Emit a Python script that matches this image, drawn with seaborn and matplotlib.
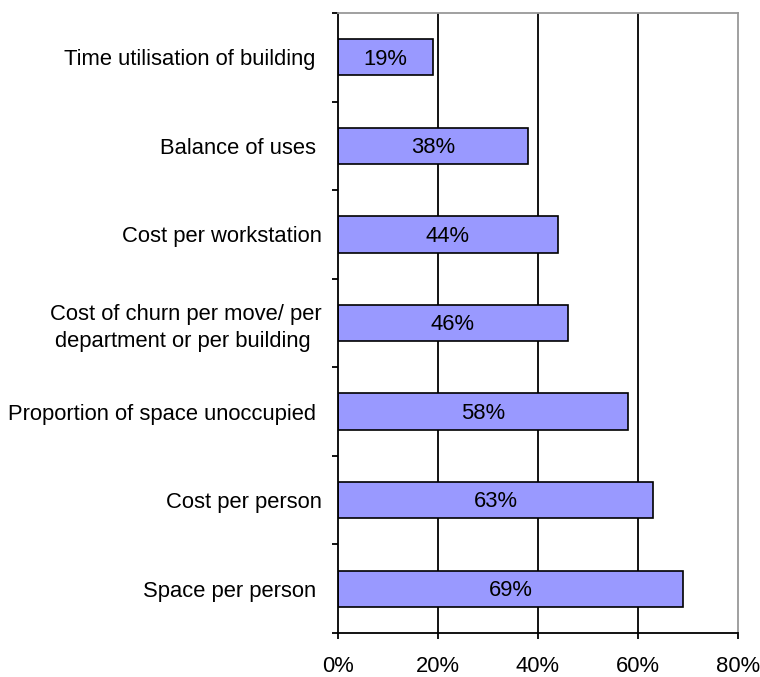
import numpy as np
import pandas as pd
import matplotlib
matplotlib.use("Agg")
import matplotlib.pyplot as plt
import seaborn as sns

# survey data - share of respondents using each measure
measures = ["Time utilisation of building ",
            "Balance of uses ",
            "Cost per workstation",
            "Cost of churn per move/ per\ndepartment or per building ",
            "Proportion of space unoccupied ",
            "Cost per person",
            "Space per person "]
percents = [19, 38, 44, 46, 58, 63, 69]
x_ticks = [0, 20, 40, 60, 80]

df = pd.DataFrame({"measure": measures, "pct": percents})

sns.set_style("white")
plt.rcParams['font.family'] = ['Liberation Sans', 'DejaVu Sans']
plt.rcParams['text.color'] = 'black'
plt.rcParams['xtick.color'] = 'black'
plt.rcParams['ytick.color'] = 'black'

FS = 15.8

fig = plt.figure(figsize=(7.6, 6.77), dpi=100)
ax = fig.add_axes([0.4447, 0.065, 0.5263, 0.9158])

# gridlines first so bars sit on top
for t in x_ticks[1:-1]:
    ax.axvline(t, color="black", lw=1.3, zorder=0)

sns.barplot(data=df, x="pct", y="measure", orient="h", color="#9999FF",
            edgecolor="black", linewidth=1.2, width=0.41, saturation=1,
            ax=ax, zorder=2)

for i, v in enumerate(percents):
    ax.text(v / 2, i + 0.02, f"{v}%", ha="center", va="center", fontsize=FS, zorder=3)

ax.set_xlim(0, 80)
ax.set_ylim(6.5, -0.5)
ax.set_xticks(x_ticks)
ax.set_xticklabels([f"{t}%" for t in x_ticks], fontsize=FS)
ax.set_xlabel("")
ax.set_ylabel("")

# labels centred on bars, tick marks at the category boundaries
ax.set_yticks(range(len(measures)))
ax.set_yticklabels(measures, fontsize=FS, ha="right", multialignment="center",
                   linespacing=1.35)
ax.set_yticks(np.arange(-0.5, len(measures), 1.0), minor=True)
ax.tick_params(axis="y", which="major", left=True, length=0, pad=11.5)
ax.tick_params(axis="y", which="minor", left=True, length=4, width=1.3,
               color="black", direction="out")
ax.tick_params(axis="x", which="major", bottom=True, length=4.5, width=1.3,
               color="black", direction="out", pad=12)

for side in ["left", "bottom"]:
    ax.spines[side].set_color("black")
    ax.spines[side].set_linewidth(1.3)
for side in ["top", "right"]:
    ax.spines[side].set_visible(True)
    ax.spines[side].set_color("#999999")
    ax.spines[side].set_linewidth(1.3)

fig.savefig("out.png", dpi=100)
